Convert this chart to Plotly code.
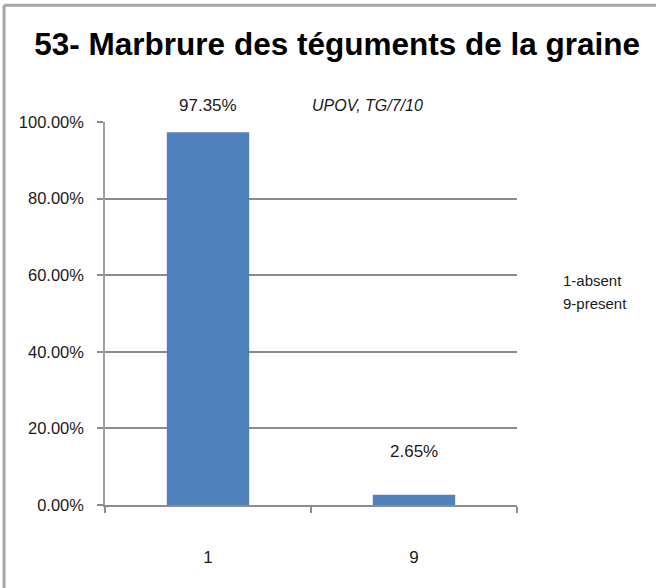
import plotly.graph_objects as go

categories = ["1", "9"]
values = [0.9735, 0.0265]
value_labels = ["97.35%", "2.65%"]
label_shifts = [27, 43]
y_ticks = [0, 0.2, 0.4, 0.6, 0.8, 1.0]
y_tick_labels = ["0.00%", "20.00%", "40.00%", "60.00%", "80.00%", "100.00%"]
legend_text = ["1-absent", "9-present"]
legend_y = [0.587, 0.527]
title_text = "53- Marbrure des téguments de la graine"
source_text = "UPOV, TG/7/10"

FONT = "Liberation Sans, Arial, sans-serif"
GRID = "#8c8c8c"
TXT = "#1a1a1a"
FS = 17

fig = go.Figure()
fig.add_trace(go.Bar(x=categories, y=values, marker=dict(color="#4F81BD", line=dict(width=0)),
                     hoverinfo="skip"))

annotations = []
for i, (v, t, s) in enumerate(zip(values, value_labels, label_shifts)):
    annotations.append(dict(x=i, y=v, text=t, showarrow=False, yshift=s, yanchor="middle",
                            font=dict(family=FONT, size=FS, color=TXT)))
annotations.append(dict(xref="paper", yref="paper", x=0.636, y=1.044, text="<i>" + source_text + "</i>",
                        showarrow=False, xanchor="center", yanchor="middle",
                        font=dict(family=FONT, size=16, color=TXT)))
for t, yy in zip(legend_text, legend_y):
    annotations.append(dict(xref="paper", yref="paper", x=1.107, y=yy, text=t,
                            showarrow=False, xanchor="left", yanchor="middle", align="left",
                            font=dict(family=FONT, size=15, color=TXT)))

fig.update_layout(
    width=656, height=588,
    margin=dict(l=105, r=139, t=122, b=83, autoexpand=False),
    paper_bgcolor="white", plot_bgcolor="white",
    bargap=0.6,
    showlegend=False,
    title=dict(text="<b>" + title_text + "</b>", x=0.514, xanchor="center", y=0.925, yanchor="middle",
               xref="container", yref="container",
               font=dict(family="Liberation Sans, Arial, sans-serif", size=31.5, color="black")),
    annotations=annotations,
    shapes=[
        dict(type="line", xref="paper", yref="paper", x0=-0.245, x1=1.4, y0=1.305, y1=1.305,
             line=dict(color="#a6a6a6", width=3)),
        dict(type="line", xref="paper", yref="paper", x0=-0.245, x1=-0.245, y0=1.305, y1=-0.3,
             line=dict(color="#a6a6a6", width=3)),
    ],
)
fig.update_xaxes(type="category", range=[-0.5, 1.5], automargin=False,
                 showline=True, linecolor=GRID, linewidth=2,
                 ticks="outside", tickson="boundaries", ticklen=6, tickcolor=GRID, tickwidth=2,
                 ticklabelstandoff=36, showgrid=False,
                 tickfont=dict(family=FONT, size=FS, color=TXT))
fig.update_yaxes(range=[0, 1], tickvals=y_ticks, ticktext=y_tick_labels, automargin=False,
                 showline=True, linecolor="#a0a0a0", linewidth=1.5,
                 ticks="outside", ticklen=6, tickcolor=GRID, tickwidth=2,
                 showgrid=True, gridcolor=GRID, gridwidth=2, zeroline=False,
                 ticklabelstandoff=10,
                 tickfont=dict(family=FONT, size=16.5, color=TXT))

fig.write_html("out.html", config={"displayModeBar": False},
               post_script="document.body.style.margin='0';")
